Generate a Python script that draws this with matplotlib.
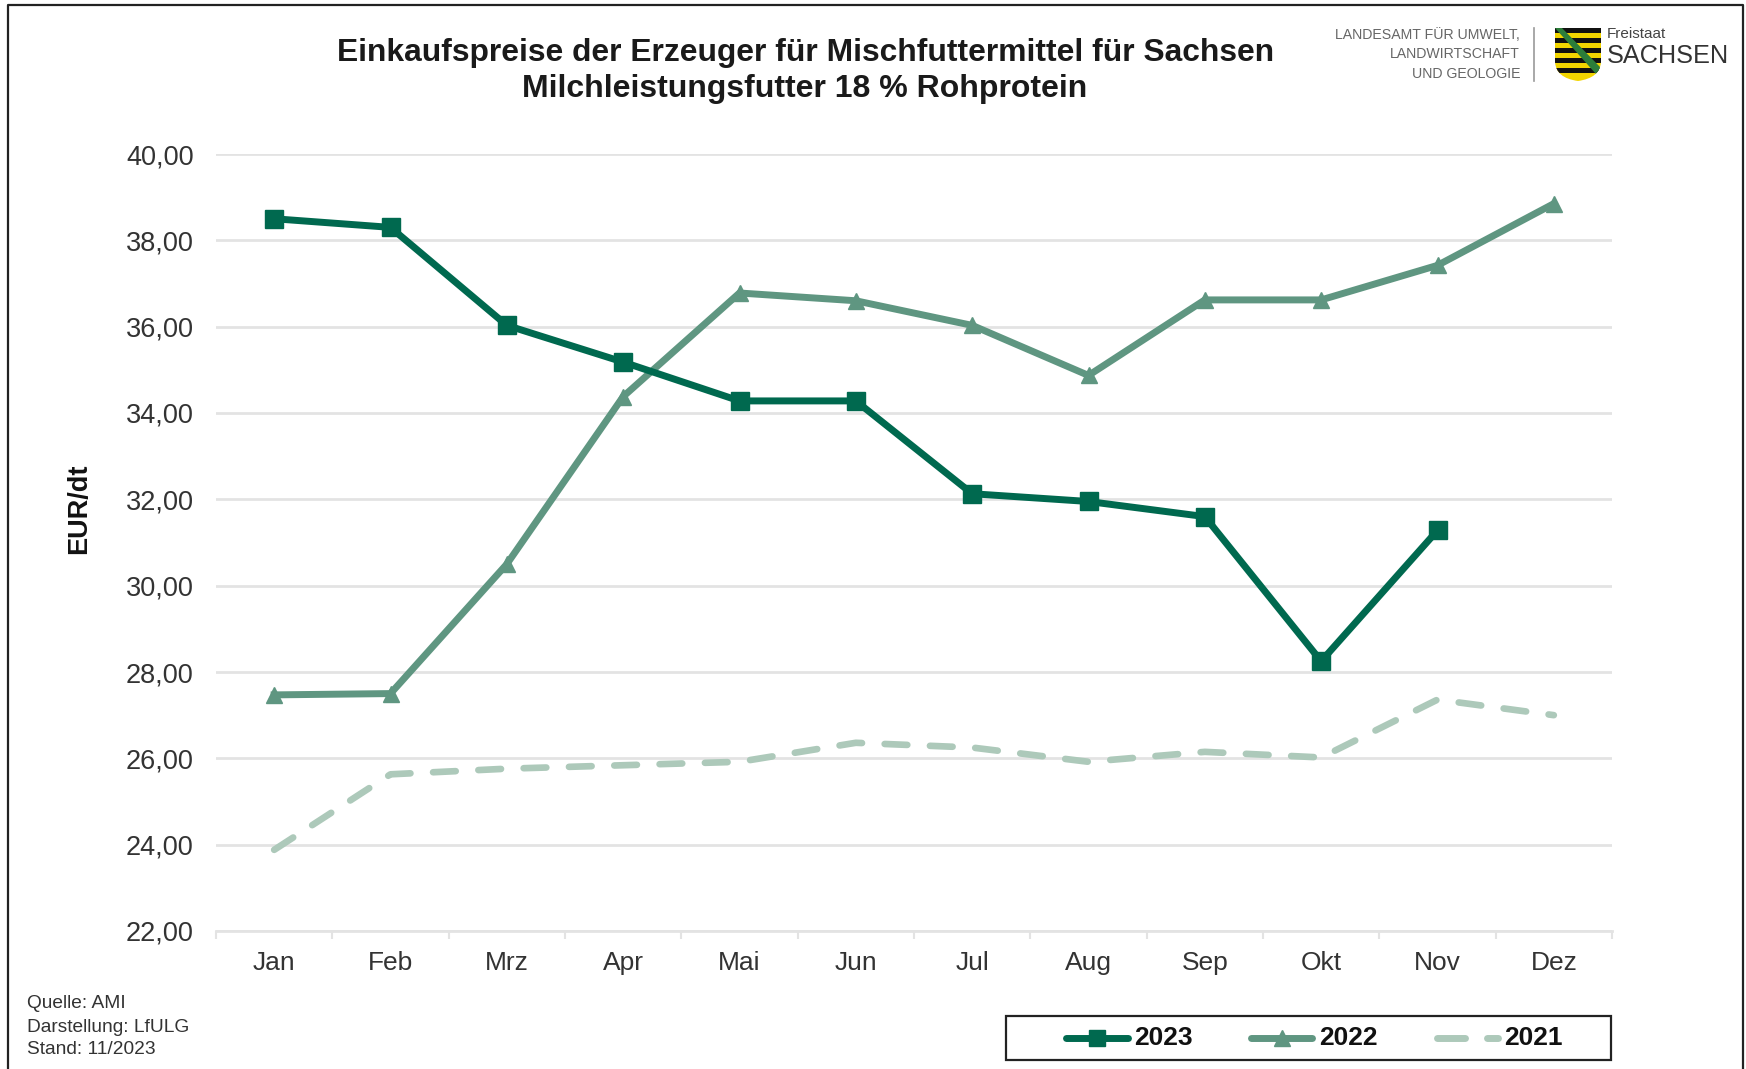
#!/usr/bin/python
"""Einkaufspreise Milchleistungsfutter Sachsen."""
import matplotlib
matplotlib.use('Agg')
import matplotlib.pyplot as plt
from matplotlib.patches import Rectangle, Polygon, PathPatch
from matplotlib.path import Path
from matplotlib.lines import Line2D

plt.rcParams['font.family'] = ['Liberation Sans', 'DejaVu Sans']

months = ['Jan', 'Feb', 'Mrz', 'Apr', 'Mai', 'Jun', 'Jul', 'Aug', 'Sep', 'Okt', 'Nov', 'Dez']
y2023 = [38.50, 38.30, 36.03, 35.18, 34.28, 34.28, 32.13, 31.95, 31.60, 28.25, 31.28]
y2022 = [27.47, 27.50, 30.50, 34.38, 36.78, 36.60, 36.03, 34.87, 36.62, 36.62, 37.42, 38.85]
y2021 = [23.88, 25.63, 25.76, 25.84, 25.92, 26.36, 26.25, 25.92, 26.15, 26.02, 27.36, 27.00]
yticks = [22, 24, 26, 28, 30, 32, 34, 36, 38, 40]

C23 = '#00694f'
C22 = '#5f9681'
C21 = '#adc9ba'
GRID = '#e3e3e3'
TXT = '#333333'

W, H = 1746, 1069
fig = plt.figure(figsize=(W/100, H/100), dpi=100)


def fx(px):
    return px/W


def fy(px):
    return 1 - px/H


# Plot area in pixels
ax = fig.add_axes([fx(216), fy(931), (1612-216)/W, (931-154)/H])
ax.set_xlim(-0.5, 11.5)
ax.set_ylim(22, 40)
xs = list(range(12))
ax.plot(xs[:12], y2021, color=C21, lw=4.8, dashes=(3.4, 3.4), dash_capstyle='round', zorder=3)
ax.plot(xs[:12], y2022, color=C22, lw=5, marker='^', ms=12, zorder=4)
ax.plot(xs[:11], y2023, color=C23, lw=5, marker='s', ms=13, zorder=5)

ax.set_yticks(yticks)
ax.set_yticklabels(['%d,00' % v for v in yticks], fontsize=19.5, color=TXT)
ax.set_xticks(xs)
ax.set_xticklabels(months, fontsize=19, color=TXT)
ax.grid(axis='y', color=GRID, lw=2)
ax.set_axisbelow(True)
for s in ['top', 'left', 'right']:
    ax.spines[s].set_visible(False)
ax.spines['bottom'].set_color(GRID)
ax.spines['bottom'].set_linewidth(2)
ax.tick_params(axis='y', length=0, pad=16)
ax.tick_params(axis='x', length=0, pad=14.5)
# Minor ticks sit between the categories
ax.set_xticks([i - 0.5 for i in range(13)], minor=True)
ax.tick_params(axis='x', which='minor', length=6, width=1.5, color=GRID)
fig.text(fx(79), fy(509), 'EUR/dt', rotation=90, ha='center', va='center',
         fontsize=19.5, fontweight='bold', color='#111111')

# Titles
fig.text(fx(806), fy(53), 'Einkaufspreise der Erzeuger für Mischfuttermittel für Sachsen',
         ha='center', va='center', fontsize=22.9, fontweight='bold', color='#1a1a1a')
fig.text(fx(805), fy(89), 'Milchleistungsfutter 18 % Rohprotein',
         ha='center', va='center', fontsize=23, fontweight='bold', color='#1a1a1a')

# Source note
for py, s in [(1004, 'Quelle: AMI'), (1027, 'Darstellung: LfULG'), (1050, 'Stand: 11/2023')]:
    fig.text(fx(27), fy(py), s, ha='left', va='center', fontsize=13.8, color=TXT)

# Outer frame
fig.add_artist(Line2D([fx(8), fx(8), fx(1743), fx(1743)], [0, fy(5), fy(5), 0],
                      color='#222222', lw=1.6))

# Legend box
fig.add_artist(Rectangle((fx(1006), fy(1060)), (1611-1006)/W, (1060-1016)/H, fill=False,
                         edgecolor='#222222', lw=1.6, transform=fig.transFigure))
fig.add_artist(Line2D([fx(1066), fx(1128)], [fy(1038)]*2, color=C23, lw=5, solid_capstyle='round'))
fig.add_artist(Line2D([fx(1251), fx(1312)], [fy(1038)]*2, color=C22, lw=5, solid_capstyle='round'))
fig.add_artist(Line2D([fx(1097)], [fy(1038)], color=C23, marker='s', ms=11))
fig.add_artist(Line2D([fx(1282)], [fy(1038)], color=C22, marker='^', ms=11))
fig.add_artist(Line2D([fx(1437), fx(1465)], [fy(1038)]*2, color=C21, lw=5, solid_capstyle='round'))
fig.add_artist(Line2D([fx(1487), fx(1498)], [fy(1038)]*2, color=C21, lw=5, solid_capstyle='round'))
for px, s in [(1134, '2023'), (1319, '2022'), (1504, '2021')]:
    fig.text(fx(px), fy(1038), s, ha='left', va='center', fontsize=19, fontweight='bold', color='#111111')

# Logo
for py, s in [(35, 'LANDESAMT FÜR UMWELT,'), (54, 'LANDWIRTSCHAFT'), (74, 'UND GEOLOGIE')]:
    fig.text(fx(1520), fy(py), s, ha='right', va='center', fontsize=10.2, color='#666666')
fig.add_artist(Line2D([fx(1534)]*2, [fy(28), fy(81)], color='#999999', lw=1.2))
fig.text(fx(1607), fy(34), 'Freistaat', fontsize=11, ha='left', va='center', color='#444444')
fig.text(fx(1607), fy(56), 'SACHSEN', fontsize=18.2, ha='left', va='center', color='#333333')

# Shield, drawn in pixel positions
shield = Path([(1555, 28), (1601, 28), (1601, 62), (1600, 78), (1578, 81), (1556, 78), (1555, 62), (1555, 28)],
              [Path.MOVETO, Path.LINETO, Path.LINETO, Path.CURVE3, Path.CURVE3, Path.CURVE3, Path.CURVE3, Path.LINETO])
shield = Path([(fx(x), fy(y)) for x, y in shield.vertices], shield.codes)
clip = PathPatch(shield, facecolor='#f2d500', edgecolor='none', transform=fig.transFigure)
fig.add_artist(clip)
for py in range(28, 74, 10):
    band = Rectangle((fx(1555), fy(py+5)), 46/W, 5/H, facecolor='#111111', edgecolor='none',
                     transform=fig.transFigure)
    fig.add_artist(band)
    band.set_clip_path(clip)
sash = Polygon([(fx(1555), fy(28)), (fx(1562), fy(28)), (fx(1601), fy(68)), (fx(1596), fy(74))],
               closed=True, facecolor='#2c7d3a', edgecolor='none', transform=fig.transFigure)
fig.add_artist(sash)
sash.set_clip_path(clip)

fig.savefig('out.png', dpi=100, facecolor='white')
